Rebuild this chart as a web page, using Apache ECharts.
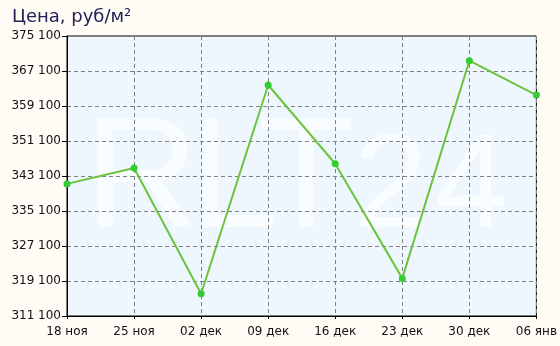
<!DOCTYPE html>
<html>
<head>
<meta charset="utf-8">
<script src="https://cdn.jsdelivr.net/npm/echarts@6/dist/echarts.min.js"></script>
<style>
html,body{margin:0;padding:0;background:#fffbf5;}
#c{width:560px;height:346px;}
</style>
</head>
<body>
<div id="c"></div>
<script>
var categories = ['18 ноя','25 ноя','02 дек','09 дек','16 дек','23 дек','30 дек','06 янв'];
var prices = [341300, 344950, 316200, 363900, 345900, 319700, 369450, 361600];
var yMin = 311100, yMax = 375100, yStep = 8000;
var titleText = 'Цена, руб/м²';
var watermarkText = 'RLT24';

var chart = echarts.init(document.getElementById('c'), null, {renderer:'canvas'});
function fmt(v){ var s = String(Math.round(v)); return s.replace(/\B(?=(\d{3})+(?!\d))/g, ' '); }

// watermark glyphs laid out individually (tight spacing like the original)
var wmX = [85, 190, 258, 354, 434];
var wmSize = [158, 158, 158, 133, 133];
var wmFill = 'rgba(255,255,255,0.72)';
var graphics = watermarkText.split('').map(function(ch, i){
  var sz = wmSize[i];
  return {
    type: 'text', x: wmX[i], y: 232 - Math.round(sz * 0.81), z: 1, silent: true,
    style: {text: ch, font: 'normal ' + sz + 'px "Liberation Sans"', fill: wmFill, verticalAlign: 'top', align: 'left'}
  };
});

chart.setOption({
  backgroundColor: '#fffbf5',
  animation: false,
  title: {
    text: titleText, left: 7, top: 3,
    textStyle: {fontFamily: 'DejaVu Sans', fontSize: 18, fontWeight: 'normal', color: '#232357'}
  },
  grid: {left: 67, right: 23, top: 36, bottom: 30, show: true, backgroundColor: '#edf7fd', borderColor: '#000', borderWidth: 1},
  graphic: graphics,
  xAxis: {
    type: 'category', data: categories, boundaryGap: false, z: 3,
    axisLine: {lineStyle: {color: '#000', width: 1}},
    axisTick: {show: true, length: 3, lineStyle: {color: '#000'}},
    axisLabel: {fontFamily: 'DejaVu Sans', fontSize: 12, color: '#111', margin: 10},
    splitLine: {show: true, lineStyle: {color: '#808080', type: [4,3], width: 1}}
  },
  yAxis: {
    type: 'value', min: yMin, max: yMax, interval: yStep, z: 3,
    axisLine: {show: true, lineStyle: {color: '#000', width: 1}},
    axisTick: {show: true, length: 5, lineStyle: {color: '#000'}},
    axisLabel: {fontFamily: 'DejaVu Sans', fontSize: 12, color: '#111', margin: 6, formatter: fmt},
    splitLine: {show: true, lineStyle: {color: '#808080', type: [4,3], width: 1}}
  },
  series: [{
    type: 'line', data: prices, z: 4,
    lineStyle: {color: '#6cc43c', width: 2},
    itemStyle: {color: '#33cc33'},
    symbol: 'circle', symbolSize: 7, showSymbol: true
  }]
});
</script>
</body>
</html>
